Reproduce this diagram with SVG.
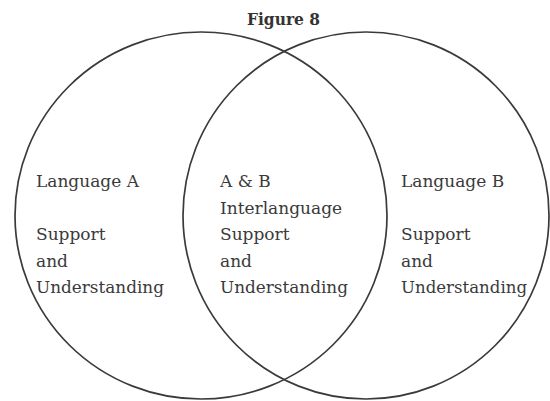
<svg xmlns="http://www.w3.org/2000/svg" width="550" height="401" viewBox="0 0 550 401">
<style>
.c{fill:none;stroke:#3a3a3a;stroke-width:1.7}
.t{font-family:"DejaVu Serif","Liberation Serif",serif;font-size:17px;fill:#3a3a3a}
.h{font-family:"DejaVu Serif","Liberation Serif",serif;font-size:17px;font-weight:bold;fill:#333}
</style>
<rect width="550" height="401" fill="#fff"/>
<text class="h" x="247" y="25" textLength="73" lengthAdjust="spacingAndGlyphs">Figure 8</text>
<g id="languageA">
<ellipse class="c" cx="201" cy="215.5" rx="186" ry="183.5"/>
<text class="t" x="36" y="187">Language A</text>
<text class="t" x="36" y="240">Support</text>
<text class="t" x="36" y="266.5">and</text>
<text class="t" x="36" y="293" textLength="128" lengthAdjust="spacingAndGlyphs">Understanding</text>
</g>
<g id="languageB">
<ellipse class="c" cx="366" cy="215.5" rx="183" ry="183.5"/>
<text class="t" x="401" y="187">Language B</text>
<text class="t" x="401" y="240">Support</text>
<text class="t" x="401" y="266.5">and</text>
<text class="t" x="401" y="293" textLength="126" lengthAdjust="spacingAndGlyphs">Understanding</text>
</g>
<g id="overlap">
<text class="t" x="220" y="187">A &amp; B</text>
<text class="t" x="220" y="213.5">Interlanguage</text>
<text class="t" x="220" y="240">Support</text>
<text class="t" x="220" y="266.5">and</text>
<text class="t" x="220" y="293" textLength="128" lengthAdjust="spacingAndGlyphs">Understanding</text>
</g>
</svg>
